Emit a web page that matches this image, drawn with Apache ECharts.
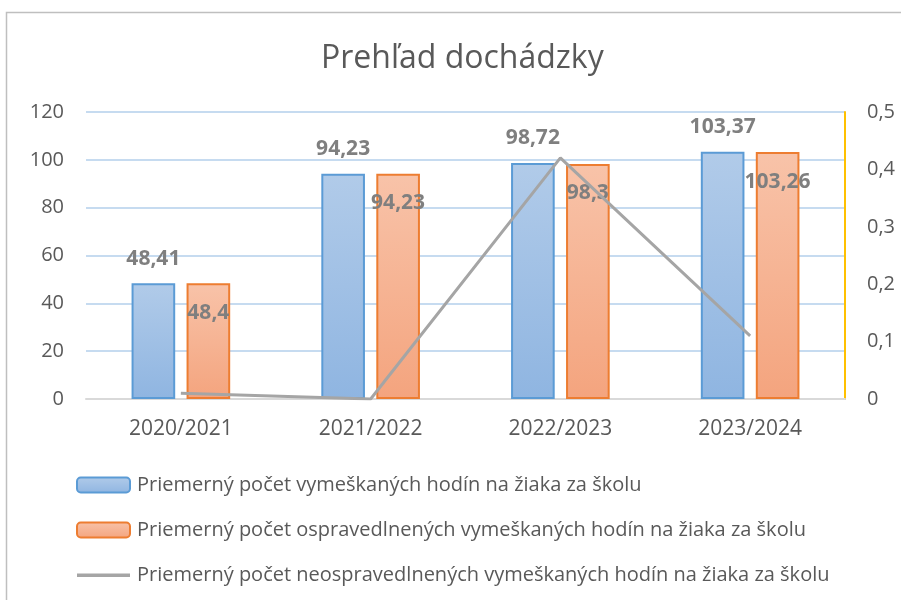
<!DOCTYPE html>
<html>
<head>
<meta charset="utf-8">
<script src="https://cdn.jsdelivr.net/npm/echarts@6/dist/echarts.min.js"></script>
<style>
  html, body { margin: 0; padding: 0; background: #fff; }
  #chart { width: 901px; height: 600px; }
</style>
</head>
<body>
<div id="chart"></div>
<script>
    var years = ['2020/2021', '2021/2022', '2022/2023', '2023/2024'];
    var missed = [48.41, 94.23, 98.72, 103.37];
    var excused = [48.4, 94.23, 98.3, 103.26];
    var unexcused = [0.01, 0, 0.42, 0.11];
    var seriesNames = [
        'Priemerný počet vymeškaných hodín na žiaka za školu',
        'Priemerný počet ospravedlnených vymeškaných hodín na žiaka za školu',
        'Priemerný počet neospravedlnených vymeškaných hodín na žiaka za školu'
    ];

    function comma(v) { return String(v).replace('.', ','); }

    var font = 'Open Sans';
    var grayText = '#595959';

    // ===== legend icon for the line: thin bar inside a 53x15 box =====
    var lineIcon = 'path://M0,0L53,0L53,0Z M0,6L53,6L53,9.5L0,9.5Z M0,15L53,15L53,15Z';

    var chart = echarts.init(document.getElementById('chart'));
    chart.setOption({
        animation: false,
        textStyle: { fontFamily: font },
        graphic: [{
            type: 'rect',
            shape: { x: 6.5, y: 12.5, width: 1000, height: 1000 },
            style: { fill: 'none', stroke: '#bfbfbf', lineWidth: 1.5 }
        }],
        title: {
            text: 'Prehľad dochádzky',
            left: 316,
            top: 38,
            textStyle: { fontFamily: font, fontSize: 32, fontWeight: 'normal', color: grayText }
        },
        legend: {
            orient: 'vertical',
            left: 71,
            top: 470,
            itemWidth: 53,
            itemHeight: 15,
            itemGap: 25,
            textStyle: { fontFamily: font, fontSize: 20, color: grayText, padding: [0, 0, 0, 2] },
            data: [
                { name: seriesNames[0] },
                { name: seriesNames[1] },
                { name: seriesNames[2], icon: lineIcon, itemStyle: { color: '#a5a5a5', borderWidth: 0 } }
            ]
        },
        grid: { left: 86, right: 56, top: 112, bottom: 201 },
        xAxis: {
            type: 'category',
            data: years,
            axisLine: { lineStyle: { color: '#d9d9d9', width: 2 } },
            axisTick: { show: false },
            axisLabel: { fontSize: 21, color: grayText, margin: 20, fontFamily: font }
        },
        yAxis: [{
            type: 'value',
            min: 0, max: 120, interval: 20,
            axisLine: { show: false },
            axisTick: { show: false },
            axisLabel: { fontSize: 20, color: grayText, margin: 22, fontFamily: font },
            splitLine: { lineStyle: { color: '#c6dbf0', width: 2 } }
        }, {
            type: 'value',
            min: 0, max: 0.5, interval: 0.1,
            axisLine: { show: true, lineStyle: { color: '#ffc000', width: 2 } },
            axisTick: { show: false },
            axisLabel: { fontSize: 20, color: grayText, margin: 22, fontFamily: font, formatter: comma },
            splitLine: { show: false }
        }],
        series: [{
            name: seriesNames[0],
            type: 'bar',
            data: missed,
            barWidth: '23%',
            barGap: '26%',
            itemStyle: {
                borderColor: '#5b9bd5',
                borderWidth: 2,
                color: new echarts.graphic.LinearGradient(0, 0, 0, 1, [
                    { offset: 0, color: '#b1cbe9' },
                    { offset: 1, color: '#8fb5e1' }
                ])
            },
            label: {
                show: true, position: 'top', distance: 14,
                fontSize: 21, fontWeight: 'bold', color: '#7f7f7f', fontFamily: font,
                formatter: function (p) { return comma(p.value); }
            }
        }, {
            name: seriesNames[1],
            type: 'bar',
            data: excused,
            barWidth: '23%',
            itemStyle: {
                borderColor: '#ed7d31',
                borderWidth: 2,
                color: new echarts.graphic.LinearGradient(0, 0, 0, 1, [
                    { offset: 0, color: '#f8c3a9' },
                    { offset: 1, color: '#f4a47e' }
                ])
            },
            label: {
                show: true, position: 'insideTop', distance: 19,
                fontSize: 21, fontWeight: 'bold', color: '#7f7f7f', fontFamily: font,
                formatter: function (p) { return comma(p.value); }
            }
        }, {
            name: seriesNames[2],
            type: 'line',
            yAxisIndex: 1,
            data: unexcused,
            symbol: 'none',
            lineStyle: { color: '#a5a5a5', width: 3 },
            itemStyle: { color: '#a5a5a5' }
        }]
    });
</script>
</body>
</html>
